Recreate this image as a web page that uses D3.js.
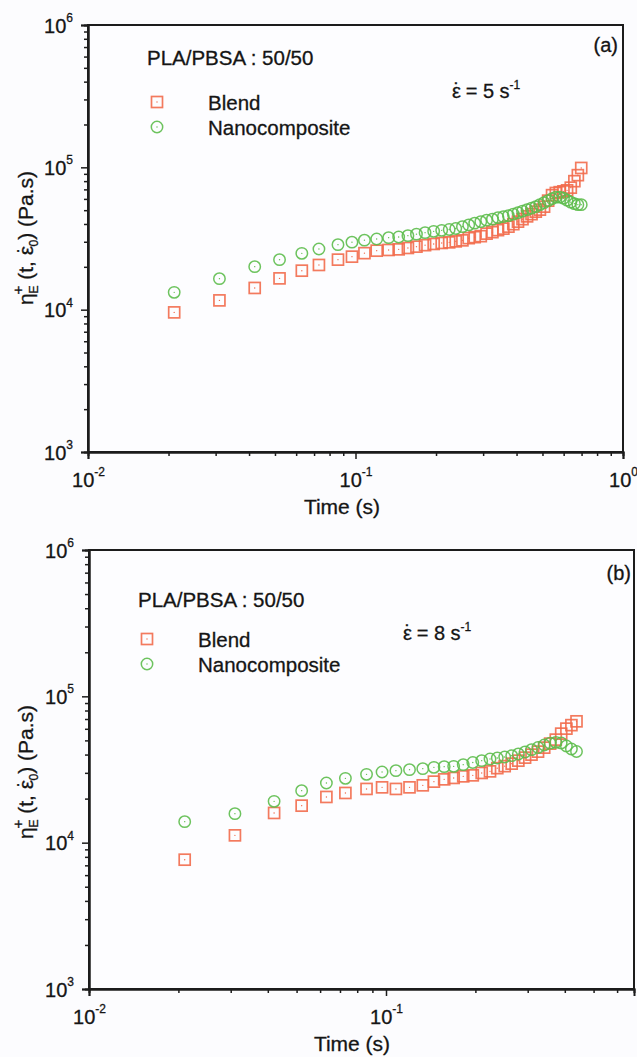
<!DOCTYPE html>
<html>
<head>
<meta charset="utf-8">
<script src="https://cdn.jsdelivr.net/npm/d3@7"></script>
<style>
  body { margin: 0; background: #fcfcfe; }
  svg text { font-family: "Liberation Sans", Arial, sans-serif; fill: #151515; stroke: #151515; stroke-width: 0.3; }
</style>
</head>
<body>
<svg width="637" height="1057"></svg>
<script>
// tijd (s), gedeeld door beide panelen
var times = [0.021, 0.031, 0.042, 0.052, 0.063, 0.073, 0.086, 0.097, 0.108, 0.120,
  0.133, 0.145, 0.157, 0.169, 0.182, 0.196, 0.210, 0.224, 0.237, 0.251,
  0.265, 0.279, 0.294, 0.309, 0.325, 0.341, 0.357, 0.373, 0.389, 0.405,
  0.421, 0.438, 0.455, 0.472, 0.489, 0.507, 0.525, 0.543, 0.561, 0.580,
  0.599, 0.618, 0.638, 0.658, 0.678, 0.698];

// (a) rate 5 s-1
var blendA = [9570, 11620, 14210, 16590, 18790, 20610, 22460, 23570, 24950, 25970,
  26270, 26530, 27130, 27710, 28390, 28950, 29420, 29710, 30190, 30690,
  31800, 32320, 32850, 34200, 35040, 36200, 37080, 38300, 39880, 41530,
  43240, 45240, 46880, 48820, 50420, 52930, 58320, 63760, 66050, 66900,
  67800, 68900, 71960, 79940, 88100, 99000];
var nanoA = [13230, 16510, 20050, 22460, 24860, 26700, 28620, 29800, 30790, 31390,
  32050, 32420, 33110, 33920, 34750, 35490, 36070, 36600, 37200, 38300,
  39400, 40530, 41530, 42550, 43240, 44310, 45020, 45750, 46880, 48030,
  49210, 50420, 51670, 52930, 54670, 56460, 58320, 60240, 61720, 61720,
  60720, 58800, 56930, 55570, 54670, 54670];

// (b) rate 8 s-1
var blendB = [7650, 11220, 15960, 17900, 20530, 21860, 23290, 23880, 23290, 23880,
  24650, 26120, 27080, 27690, 28390, 28840, 29950, 30710, 32300, 33340,
  34670, 36340, 38110, 39950, 41880, 44600, 47510, 50590, 55590, 60150,
  63550, 67480];
var nanoB = [13920, 15790, 19160, 22670, 25590, 27510, 29300, 30430, 31050, 31550,
  32050, 32710, 33070, 33230, 34130, 35330, 36340, 37330, 37920, 38520,
  39320, 40400, 41690, 43220, 44740, 46540, 47870, 48480, 48030, 45810,
  43700, 42010];

var yMajor = [1e3, 1e4, 1e5, 1e6];
var yExp = ["3", "4", "5", "6"];
var xMajorA = [0.01, 0.1, 1], xExpA = ["-2", "-1", "0"];
var xMajorB = [0.01, 0.1], xExpB = ["-2", "-1"];

var svg = d3.select("svg");
var kleurBlend = "#f26b4c", kleurNano = "#5dbd4c";

var panels = [
  { left: 88, right: 623, top: 25, bottom: 452, xmax: 1, tag: "(a)", rate: "5",
    xMajor: xMajorA, xExp: xExpA, blend: blendA, nano: nanoA, n: 46,
    title: [147, 65], legX: 157, legY: 102, tagPos: [618, 52], ratePos: [452, 98],
    timeX: 342, ylabY: 238 },
  { left: 89, right: 634, top: 550, bottom: 989, xmax: 0.684, tag: "(b)", rate: "8",
    xMajor: xMajorB, xExp: xExpB, blend: blendB, nano: nanoB, n: 32,
    title: [138, 607], legX: 147, legY: 639, tagPos: [631, 580], ratePos: [403, 640],
    timeX: 352, ylabY: 772 }
];

function minors(lo, hi) {
  var out = [];
  for (var e = lo; e < hi; e++)
    for (var m = 2; m <= 9; m++) out.push(m * Math.pow(10, e));
  return out;
}

function square(g, x, y) {
  g.append("rect").attr("x", x - 5.5).attr("y", y - 5.5).attr("width", 11).attr("height", 11)
    .attr("fill", "none").attr("stroke", kleurBlend).attr("stroke-width", 1.7).attr("opacity", 0.9);
  g.append("circle").attr("cx", x).attr("cy", y).attr("r", 0.7).attr("fill", kleurBlend);
}
function ring(g, x, y) {
  g.append("circle").attr("cx", x).attr("cy", y).attr("r", 5.7)
    .attr("fill", "none").attr("stroke", kleurNano).attr("stroke-width", 1.5).attr("opacity", 0.9);
  g.append("circle").attr("cx", x).attr("cy", y).attr("r", 0.7).attr("fill", kleurNano);
}

// epsilon met punt erboven
function epsDot(t) {
  t.append("tspan").text("\u03b5");
  t.append("tspan").attr("dx", -7.5).attr("dy", -1).text("\u02d9");
  return t;
}

panels.forEach(function(p) {
  var x = d3.scaleLog().domain([0.01, p.xmax]).range([p.left, p.right]);
  var y = d3.scaleLog().domain([1e3, 1e6]).range([p.bottom, p.top]);
  var g = svg.append("g");

  // frame
  g.append("rect").attr("x", p.left).attr("y", p.top)
    .attr("width", p.right - p.left).attr("height", p.bottom - p.top)
    .attr("fill", "#fdfdff").attr("stroke", "#1c1c1c").attr("stroke-width", 2);

  // y as
  g.append("g").attr("transform", "translate(" + p.left + ",0)")
    .call(d3.axisLeft(y).tickValues(minors(3, 6)).tickSize(4).tickFormat(""));
  var ya = g.append("g").attr("transform", "translate(" + p.left + ",0)")
    .call(d3.axisLeft(y).tickValues(yMajor).tickSize(7).tickPadding(8)
      .tickFormat(function() { return ""; }));
  ya.selectAll(".tick text").each(function(d, i) {
    var t = d3.select(this).attr("font-size", 20).attr("dy", "0.36em").attr("text-anchor", "end");
    t.append("tspan").text("10");
    t.append("tspan").attr("font-size", 12).attr("dy", "-0.9em").text(yExp[i]);
  });

  // x as
  var xMin = minors(-2, 0).filter(function(v) { return v < p.xmax; });
  g.append("g").attr("transform", "translate(0," + p.bottom + ")")
    .call(d3.axisBottom(x).tickValues(xMin).tickSize(4).tickFormat(""));
  var xa = g.append("g").attr("transform", "translate(0," + p.bottom + ")")
    .call(d3.axisBottom(x).tickValues(p.xMajor).tickSize(7).tickPadding(14)
      .tickFormat(function() { return ""; }));
  xa.selectAll(".tick text").each(function(d, i) {
    var t = d3.select(this).attr("font-size", 20).attr("dy", "0.71em");
    t.append("tspan").text("10");
    t.append("tspan").attr("font-size", 12).attr("dy", "-0.9em").text(p.xExp[i]);
  });
  g.selectAll(".domain").attr("stroke", "#1c1c1c").attr("stroke-width", 2);
  g.selectAll(".tick line").attr("stroke", "#1c1c1c").attr("stroke-width", 1.5);

  // titels
  g.append("text").attr("x", p.timeX).attr("y", p.bottom + 62).attr("text-anchor", "middle")
    .attr("font-size", 21).text("Time (s)");

  var yl = g.append("text").attr("transform", "translate(33," + p.ylabY + ") rotate(-90)")
    .attr("text-anchor", "middle").attr("font-size", 21);
  yl.append("tspan").text("\u03b7");
  yl.append("tspan").attr("font-size", 12).attr("dy", 5).text("E");
  yl.append("tspan").attr("font-size", 15).attr("dx", -9).attr("dy", -15).text("+");
  yl.append("tspan").attr("dy", 10).text(" (t, ");
  epsDot(yl);
  yl.append("tspan").attr("font-size", 12).attr("dy", 6).text("0");
  yl.append("tspan").attr("dy", -5).text(") (Pa.s)");

  g.append("text").attr("x", p.title[0]).attr("y", p.title[1]).attr("font-size", 20.5)
    .text("PLA/PBSA : 50/50");
  square(g, p.legX, p.legY);
  g.append("text").attr("x", p.legX + 51).attr("y", p.legY + 8).attr("font-size", 20.5).text("Blend");
  ring(g, p.legX, p.legY + 25);
  g.append("text").attr("x", p.legX + 51).attr("y", p.legY + 33).attr("font-size", 20.5).text("Nanocomposite");

  g.append("text").attr("x", p.tagPos[0]).attr("y", p.tagPos[1]).attr("text-anchor", "end")
    .attr("font-size", 20).text(p.tag);
  var rt = epsDot(g.append("text").attr("x", p.ratePos[0]).attr("y", p.ratePos[1]).attr("font-size", 20));
  rt.append("tspan").attr("dy", 1).text(" = " + p.rate + " s");
  rt.append("tspan").attr("font-size", 12).attr("dy", -9).text("-1");

  // data
  var ts = times.slice(0, p.n);
  var mk = g.append("g");
  ts.forEach(function(t, i) { square(mk, x(t), y(p.blend[i])); });
  ts.forEach(function(t, i) { ring(mk, x(t), y(p.nano[i])); });
});
</script>
</body>
</html>
